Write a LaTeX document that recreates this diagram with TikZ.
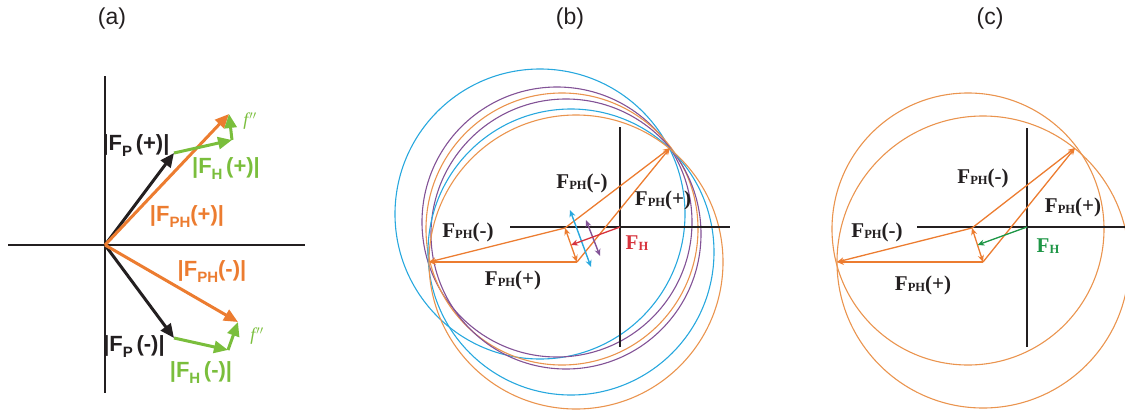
\documentclass[tikz,border=0pt]{standalone}
\usepackage{fontspec}
\setmainfont{Liberation Serif}
\setsansfont{Liberation Sans}
\usetikzlibrary{arrows.meta}
\definecolor{cor}{RGB}{236,124,48}
\definecolor{corl}{RGB}{234,148,78}
\definecolor{cgr}{RGB}{122,190,60}
\definecolor{cdg}{RGB}{30,150,70}
\definecolor{cbl}{RGB}{40,168,222}
\definecolor{cpu}{RGB}{130,82,150}
\definecolor{crd}{RGB}{215,50,60}
\definecolor{cbk}{RGB}{35,31,32}
\newcommand{\Fa}[2]{|F\raisebox{-6pt}{\fontsize{15}{15}\selectfont #1}#2|}
\newcommand{\Fb}[1]{F\raisebox{-1pt}{\fontsize{12.5}{13}\selectfont PH}(#1)}
\newcommand{\Fh}{F\raisebox{-1pt}{\fontsize{12.5}{13}\selectfont H}}
\begin{document}
\begin{tikzpicture}[x=1pt,y=-1pt,
  axisline/.style={line width=1.8pt,draw=cbk},
  bigvec/.style={line width=3pt,-{Triangle[length=14pt,width=12pt]}},
  smallvec/.style={line width=1.3pt,-{Stealth[length=7pt,width=6pt]}},
  dblvec/.style={line width=1.4pt,{Stealth[length=7pt,width=6pt]}-{Stealth[length=7pt,width=6pt]}},
  circ/.style={line width=1.1pt},
  labA/.style={font=\sffamily\bfseries\fontsize{22}{22}\selectfont,inner sep=0pt},
  labB/.style={font=\bfseries\fontsize{21}{21}\selectfont,text=cbk,inner sep=0pt},
  ttl/.style={font=\sffamily\fontsize{23}{23}\selectfont,text=cbk,inner sep=0pt}]
\useasboundingbox (0,0) rectangle (1125,410);
\clip (0,0) rectangle (1125,410);

% titles
\node[ttl] (ta) at (112,19) {(a)};
\node[ttl] (tb) at (570,19) {(b)};
\node[ttl] (tc) at (990,19) {(c)};

% ---------------- panel (a)
\coordinate (Oa) at (105,245);
\coordinate (ay1) at (105,76);
\coordinate (ay2) at (105,393);
\coordinate (ax1) at (8,245);
\coordinate (ax2) at (305,245);
\draw[axisline] (ay1) -- (ay2);
\draw[axisline] (ax1) -- (ax2);
\coordinate (Pp) at (174,153);
\coordinate (Hp) at (232,140);
\coordinate (Tp) at (229,114);
\coordinate (Pm) at (174,338);
\coordinate (Hm) at (228,350);
\coordinate (Tm) at (238,322);
\draw[bigvec,cbk] (Oa) -- (Pp);
\draw[bigvec,cbk] (Oa) -- (Pm);
\draw[bigvec,cor] (Oa) -- (Tp);
\draw[bigvec,cor] (Oa) -- (Tm);
\draw[bigvec,cgr] (Pp) -- (Hp);
\draw[bigvec,cgr] (Hp) -- (Tp);
\draw[bigvec,cgr] (Pm) -- (Hm);
\draw[bigvec,cgr] (Hm) -- (Tm);
\node[labA,text=cbk] (lpp) at (136,146) {\Fa{P}{\,(+)}};
\node[labA,text=cgr] (lhp) at (226,169) {\Fa{H}{\,(+)}};
\node[labA,text=cor] (lphp) at (187,217) {\Fa{PH}{(+)}};
\node[labA,text=cor] (lphm) at (212,272) {\Fa{PH}{(-)}};
\node[labA,text=cbk] (lpm) at (134,347) {\Fa{P}{\,(-)}};
\node[labA,text=cgr] (lhm) at (201,373) {\Fa{H}{\,(-)}};
\node[font=\itshape\fontsize{18}{18}\selectfont,text=cgr,inner sep=0pt] (fp) at (250,121) {f\kern1pt$''$};
\node[font=\itshape\fontsize{18}{18}\selectfont,text=cgr,inner sep=0pt] (fm) at (257,336) {f\kern1pt$''$};

% ---------------- panel (b)
\draw[circ,cbl] (540,214) circle [radius=145];
\draw[circ,cpu] (557,222) circle [radius=135];
\draw[circ,corl] (562,229) circle [radius=136];
\draw[circ,cpu] (566,234) circle [radius=135];
\draw[circ,cbl] (571,252) circle [radius=143];
\draw[circ,corl] (576,262) circle [radius=147];
\coordinate (Ob) at (620,227);
\coordinate (by1) at (620,127);
\coordinate (by2) at (620,347);
\coordinate (bx1) at (510,227);
\coordinate (bx2) at (730,227);
\draw[axisline] (by1) -- (by2);
\draw[axisline] (bx1) -- (bx2);
\coordinate (Tb) at (670,148);
\coordinate (Lb) at (429,262);
\coordinate (P1b) at (565,228);
\coordinate (P2b) at (577,262);
\coordinate (Mb) at (571,245);
\draw[smallvec,cor] (P1b) -- (Tb);
\draw[smallvec,cor] (P2b) -- (Tb);
\draw[smallvec,cor] (P1b) -- (Lb);
\draw[smallvec,cor] (P2b) -- (Lb);
\draw[smallvec,cor] (Mb) -- (P1b);
\draw[smallvec,cor] (Mb) -- (P2b);
\coordinate (B1) at (570,210);
\coordinate (B2) at (591,267);
\coordinate (U1) at (586,220);
\coordinate (U2) at (600,256);
\draw[dblvec,cbl] (B1) -- (B2);
\draw[dblvec,cpu] (U1) -- (U2);
\draw[smallvec,crd] (Ob) -- (Mb);
\node[labB] (b1) at (582,183) {\Fb{-}};
\node[labB] (b2) at (663,200) {\Fb{+}};
\node[labB] (b3) at (468,232) {\Fb{-}};
\node[labB] (b4) at (513,280) {\Fb{+}};
\node[labB,text=crd] (b5) at (637,243) {\Fh};

% ---------------- panel (c)
\draw[circ,corl] (968,229) circle [radius=136];
\draw[circ,corl] (983,262) circle [radius=146];
\coordinate (Oc) at (1027,227);
\coordinate (cy1) at (1027,128);
\coordinate (cy2) at (1027,347);
\coordinate (cx1) at (917,227);
\coordinate (cx2) at (1125,227);
\draw[axisline] (cy1) -- (cy2);
\draw[axisline] (cx1) -- (cx2);
\coordinate (Tc) at (1075,148);
\coordinate (Lc) at (837,262);
\coordinate (P1c) at (972,228);
\coordinate (P2c) at (983,262);
\coordinate (Mc) at (977.5,245);
\draw[smallvec,cor] (P1c) -- (Tc);
\draw[smallvec,cor] (P2c) -- (Tc);
\draw[smallvec,cor] (P1c) -- (Lc);
\draw[smallvec,cor] (P2c) -- (Lc);
\draw[smallvec,cor] (Mc) -- (P1c);
\draw[smallvec,cor] (Mc) -- (P2c);
\draw[smallvec,cdg] (Oc) -- (Mc);
\node[labB] (c1) at (983,178) {\Fb{-}};
\node[labB] (c2) at (1073,207) {\Fb{+}};
\node[labB] (c3) at (877,232) {\Fb{-}};
\node[labB] (c4) at (923,285) {\Fb{+}};
\node[labB,text=cdg] (c5) at (1048,246) {\Fh};
\end{tikzpicture}
\end{document}
